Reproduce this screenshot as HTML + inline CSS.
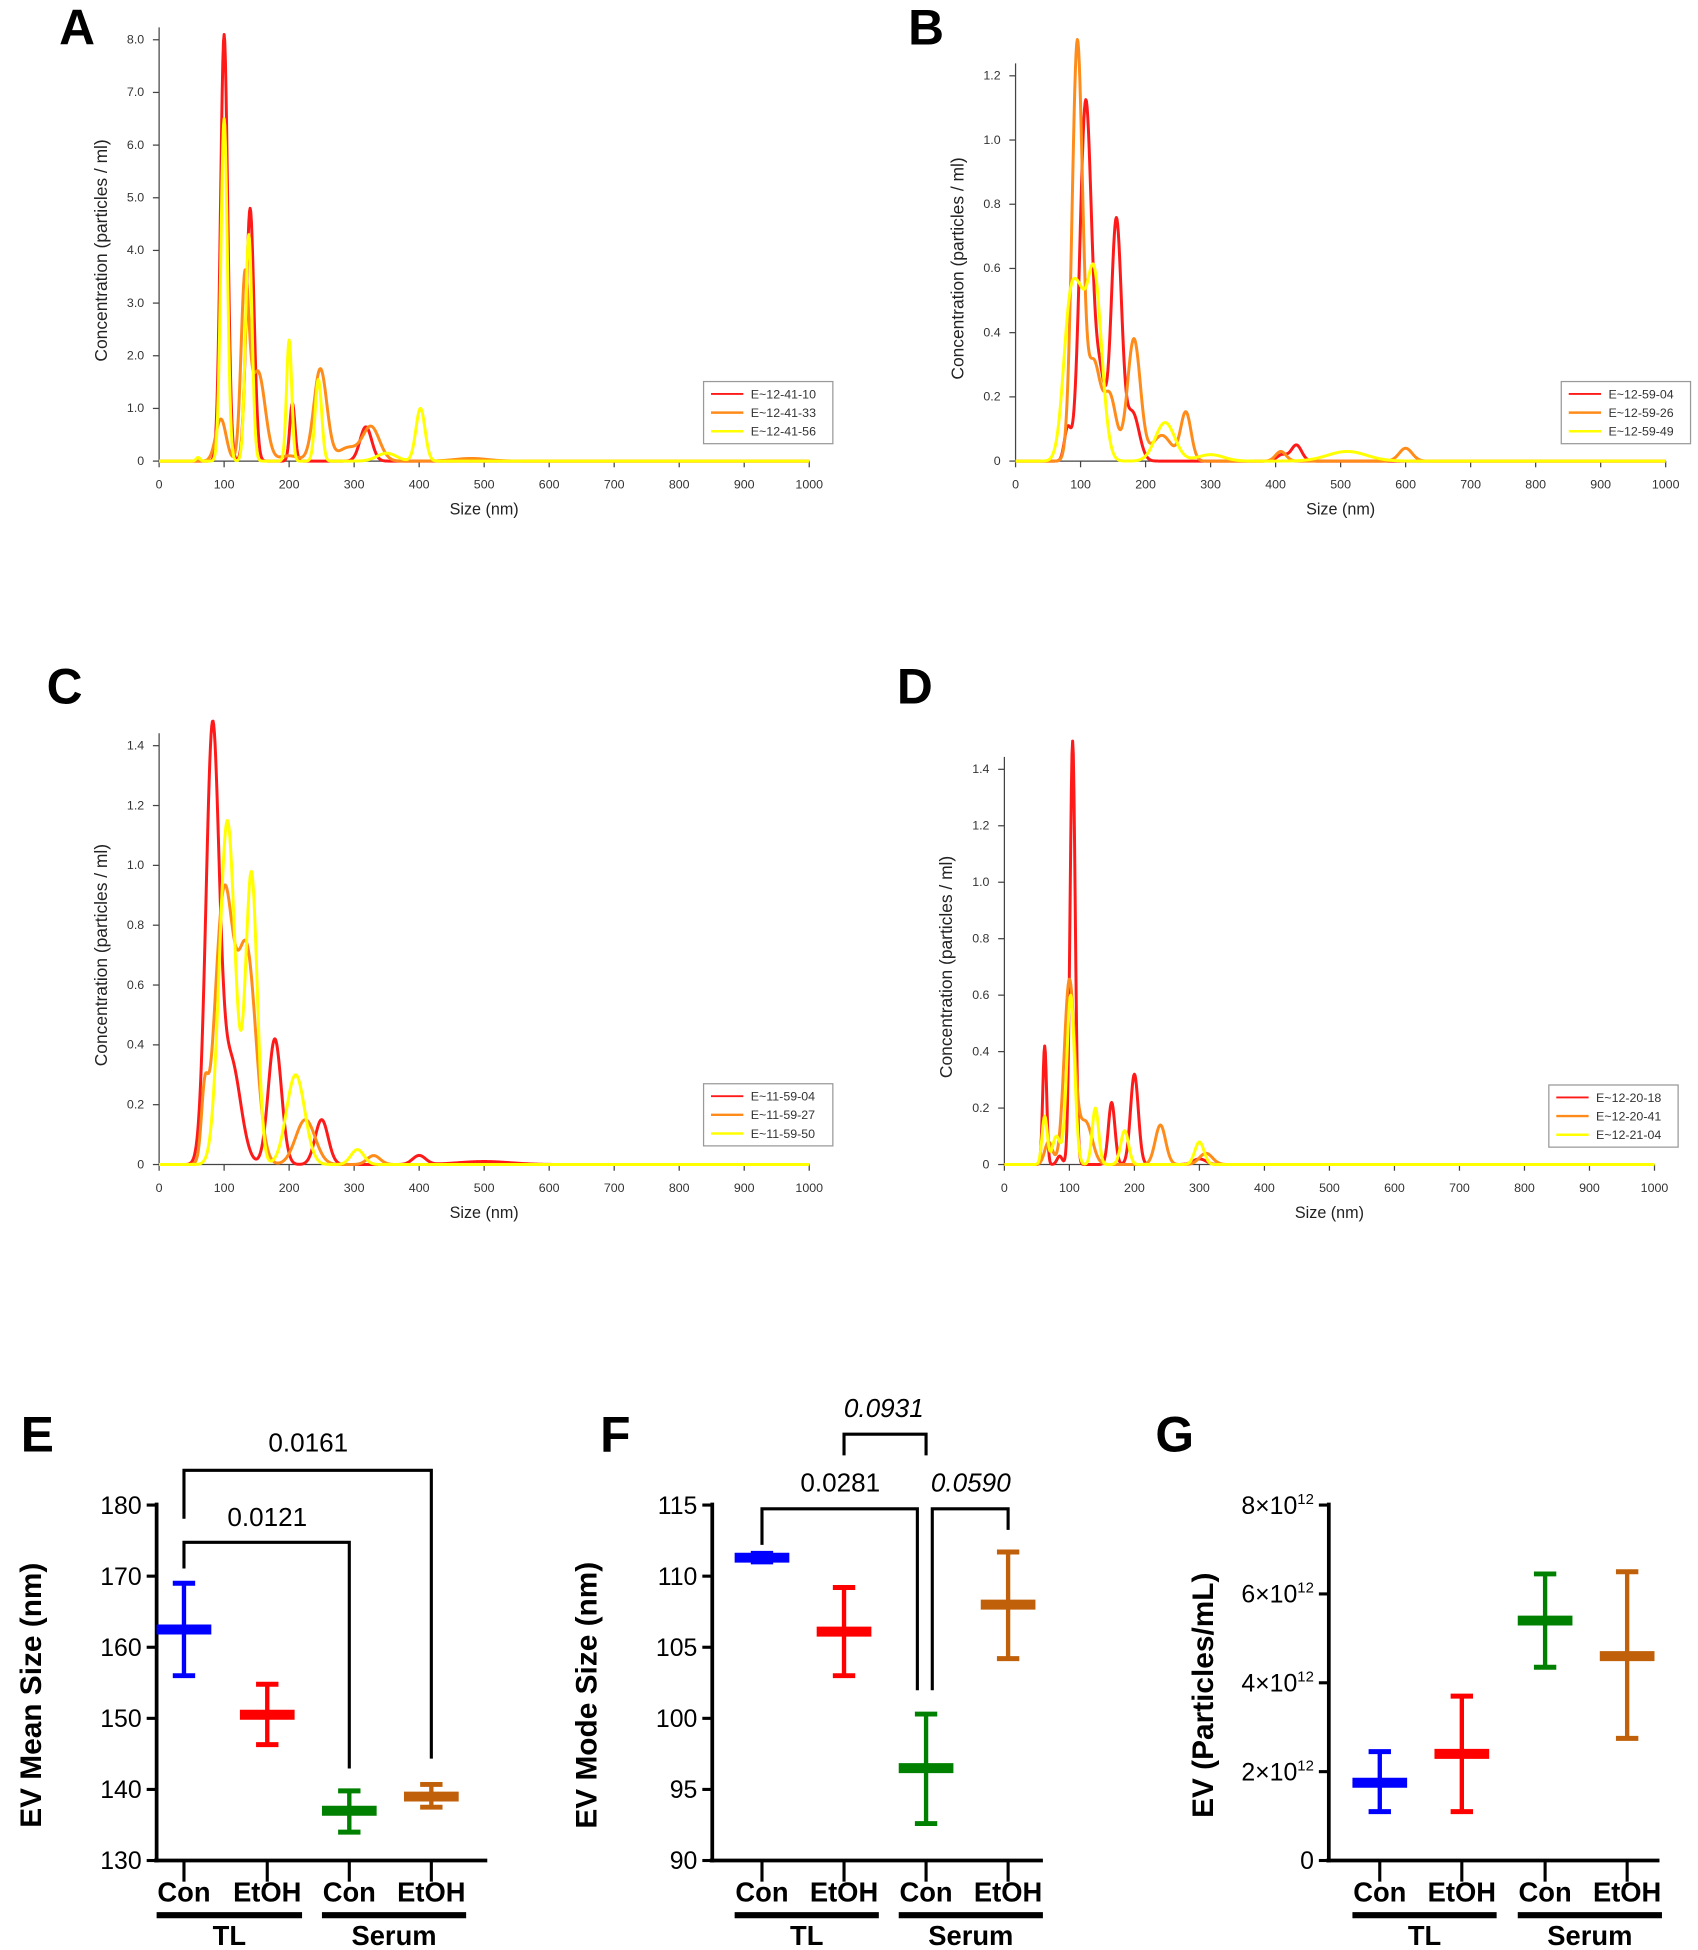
<!DOCTYPE html>
<html><head><meta charset="utf-8"><style>
html,body{margin:0;padding:0;background:#fff;}
svg{display:block;font-family:"Liberation Sans",Arial,sans-serif;}
</style></head><body>
<svg id="fig" width="1698" height="1950" viewBox="0 0 1366 1569" preserveAspectRatio="none" xmlns="http://www.w3.org/2000/svg"></svg>
<script>
// ===== NTA distribution data: peaks [center nm, height, sigma nm] =====
const xTicksNTA = [0,100,200,300,400,500,600,700,800,900,1000];
const aLegend = ["E~12-41-10","E~12-41-33","E~12-41-56"];
const aRed = [[100,8.1,5.5],[140,4.8,6],[205,1.1,4],[318,0.65,9]];
const aOrange = [[95,0.8,8],[132,3.3,6],[152,1.7,11],[200,0.1,15],[248,1.75,10],[290,0.25,15],[326,0.65,13],[480,0.05,25]];
const aYellow = [[60,0.07,3],[100,6.5,5],[138,4.3,5],[200,2.3,4],[245,1.55,5],[350,0.15,15],[402,1.0,7]];
const bLegend = ["E~12-59-04","E~12-59-26","E~12-59-49"];
const bRed = [[80,0.1,5],[108,1.12,9],[130,0.25,8],[155,0.75,8],[180,0.15,10],[410,0.02,8],[432,0.05,8]];
const bOrange = [[95,1.3,8],[120,0.3,10],[145,0.2,10],[182,0.38,10],[225,0.08,15],[262,0.15,8],[408,0.03,8],[600,0.04,10]];
const bYellow = [[85,0.5,11],[100,0.2,8],[120,0.6,12],[230,0.12,15],[300,0.02,20],[510,0.03,30]];
const cLegend = ["E~11-59-04","E~11-59-27","E~11-59-50"];
const cRed = [[82,1.42,10],[110,0.35,15],[178,0.42,10],[250,0.15,10],[400,0.03,10],[500,0.01,40]];
const cOrange = [[70,0.2,5],[100,0.9,14],[135,0.7,14],[225,0.15,15],[330,0.03,10]];
const cYellow = [[105,1.15,12],[142,0.97,9],[210,0.3,14],[305,0.05,10]];
const dLegend = ["E~12-20-18","E~12-20-41","E~12-21-04"];
const dRed = [[62,0.42,3],[85,0.03,4],[105,1.5,4],[165,0.22,5],[200,0.32,6],[300,0.02,10]];
const dOrange = [[68,0.08,6],[100,0.65,8],[125,0.15,10],[240,0.14,8],[310,0.04,10]];
const dYellow = [[62,0.17,4],[80,0.1,6],[102,0.6,6],[140,0.2,5],[185,0.12,6],[300,0.08,7]];

// ===== Summary stats: [mean, low, high] =====
const cats = ["Con","EtOH","Con","EtOH"];
const groups = ["TL","Serum"];
const meanSize = [[162.5,156,169],[150.5,146.3,154.8],[137,134,139.8],[139,137.5,140.7]];
const modeSize = [[111.3,111,111.6],[106.1,103,109.2],[96.5,92.6,100.3],[108,104.2,111.7]];
const evConc = [[1.75,1.1,2.45],[2.4,1.1,3.7],[5.4,4.35,6.45],[4.6,2.75,6.5]];
const eTicks = [130,140,150,160,170,180];
const fTicks = [90,95,100,105,110,115];
const gTicks = [0,2,4,6,8];

const NS="http://www.w3.org/2000/svg";
const svg=document.getElementById('fig');
function mk(tag,attrs,parent){const e=document.createElementNS(NS,tag);for(const k in attrs)e.setAttribute(k,attrs[k]);(parent||svg).appendChild(e);return e;}
function txt(s,attrs,parent){const e=mk('text',attrs,parent);e.textContent=s;return e;}

function ntaPanel(o){
  const g=mk('g',{});
  
  
  const sx=v=>o.x0+(v/1000)*(o.x1-o.x0);
  const sy=v=>o.y0-(v/o.ymax)*(o.y0-o.yTop);
  const lbl=txt(o.letter,{x:o.lx,y:o.ly,'font-size':40,'font-weight':'bold','text-anchor':'middle'},g);
  
  
  mk('line',{x1:o.x0,y1:o.y0,x2:o.x0,y2:o.yTop-10,stroke:'#444','stroke-width':1},g);
  mk('line',{x1:o.x0,y1:o.y0,x2:o.x1,y2:o.y0,stroke:'#444','stroke-width':1},g);
  xTicksNTA.forEach(t=>{mk('line',{x1:sx(t),y1:o.y0,x2:sx(t),y2:o.y0+5,stroke:'#444'},g);
    const tl=txt(String(t),{x:sx(t),y:o.y0+22,'font-size':10,'text-anchor':'middle',fill:'#333'},g);
    
    });
  o.yt.forEach(t=>{mk('line',{x1:o.x0-5,y1:sy(t),x2:o.x0,y2:sy(t),stroke:'#444'},g);
    const tl=txt(t===0?'0':t.toFixed(1),{x:o.x0-12,y:sy(t)+3,'font-size':10,'text-anchor':'end',fill:'#333'},g);
    
    });
  const xt=txt('Size (nm)',{x:(o.x0+o.x1)/2,y:o.y0+43,'font-size':13,'text-anchor':'middle',fill:'#222'},g);
  
  
  const ym=(o.y0+o.yTop)/2;
  const yt=txt('Concentration (particles / ml)',{x:o.x0-42,y:ym,'font-size':14,'text-anchor':'middle',fill:'#222',transform:`rotate(-90 ${o.x0-42} ${ym})`},g);
  
  
  const cols=['#ff1a1a','#ff8c1a','#ffff00'];
  o.series.forEach((pk,i)=>{
    let d='';
    for(let v=0;v<=1000;v+=1){let y=0;pk.forEach(p=>{y+=p[1]*Math.exp(-((v-p[0])**2)/(2*p[2]*p[2]));});
      d+=(v?'L':'M')+sx(v).toFixed(2)+','+sy(y).toFixed(2);}
    const p=mk('path',{d:d,fill:'none',stroke:cols[i],'stroke-width':2.4,'stroke-linejoin':'round'},g);
    
    
  });
  const lg=mk('g',{},g);
  
  
  mk('rect',{x:o.lgx,y:o.lgy,width:104,height:50,fill:'#fff',stroke:'#999'},lg);
  o.legend.forEach((s,i)=>{const yy=o.lgy+10+i*15;
    mk('line',{x1:o.lgx+6,y1:yy,x2:o.lgx+32,y2:yy,stroke:cols[i],'stroke-width':i?2:1.5},lg);
    const t=txt(s,{x:o.lgx+38,y:yy+3.5,'font-size':10,fill:'#333'},lg);
    
    });
}
ntaPanel({name:'panel-a',letter:'A',lx:62,ly:36,x0:128,x1:651,y0:371,yTop:32,ymax:8,yt:[0,1,2,3,4,5,6,7,8],series:[aRed,aOrange,aYellow],legend:aLegend,lgx:566,lgy:307});
ntaPanel({name:'panel-b',letter:'B',lx:745,ly:36,x0:817,x1:1340,y0:371,yTop:61,ymax:1.2,yt:[0,0.2,0.4,0.6,0.8,1.0,1.2],series:[bRed,bOrange,bYellow],legend:bLegend,lgx:1256,lgy:307});
ntaPanel({name:'panel-c',letter:'C',lx:52,ly:566,x0:128,x1:651,y0:937,yTop:600,ymax:1.4,yt:[0,0.2,0.4,0.6,0.8,1.0,1.2,1.4],series:[cRed,cOrange,cYellow],legend:cLegend,lgx:566,lgy:872});
ntaPanel({name:'panel-d',letter:'D',lx:736,ly:566,x0:808,x1:1331,y0:937,yTop:619,ymax:1.4,yt:[0,0.2,0.4,0.6,0.8,1.0,1.2,1.4],series:[dRed,dOrange,dYellow],legend:dLegend,lgx:1246,lgy:873});

const catCols=['#0000ff','#ff0000','#008000','#c0600a'];
function statPanel(o){
  const g=mk('g',{});
  
  
  const y0=1497,yTop=1211;
  const tmin=o.ticks[0],tmax=o.ticks[o.ticks.length-1];
  const sy=v=>y0-(v-tmin)/(tmax-tmin)*(y0-yTop);
  const cx=o.cx;
  const lbl=txt(o.letter,{x:o.lx,y:1168,'font-size':40,'font-weight':'bold','text-anchor':'middle'},g);
  
  
  mk('line',{x1:o.x0,y1:yTop-2,x2:o.x0,y2:y0+1.5,stroke:'#000','stroke-width':3},g);
  mk('line',{x1:o.x0-2,y1:y0,x2:o.x0+266,y2:y0,stroke:'#000','stroke-width':3},g);
  o.ticks.forEach(t=>{mk('line',{x1:o.x0-8,y1:sy(t),x2:o.x0,y2:sy(t),stroke:'#000','stroke-width':2.5},g);
    let tl;
    if(o.sci){tl=txt(t===0?'0':'',{x:o.x0-12,y:sy(t)+7,'font-size':20,'text-anchor':'end'},g);
      if(t!==0){tl.textContent=t+'×10';const s=document.createElementNS(NS,'tspan');s.setAttribute('dy','-8');s.setAttribute('font-size','12');s.textContent='12';tl.appendChild(s);}}
    else tl=txt(String(t),{x:o.x0-12,y:sy(t)+7,'font-size':20,'text-anchor':'end'},g);
    
    });
  const ym=(y0+yTop)/2+10;
  const yt=txt(o.ytitle,{x:o.x0-93,y:ym,'font-size':24,'font-weight':'bold','text-anchor':'middle',transform:`rotate(-90 ${o.x0-93} ${ym})`},g);
  
  
  o.data.forEach((d,i)=>{
    const c=catCols[i];const x=cx[i];
    mk('line',{x1:x,y1:y0,x2:x,y2:y0+17,stroke:'#000','stroke-width':2.5},g);
    const cl=txt(cats[i],{x:x,y:1530,'font-size':22,'font-weight':'bold','text-anchor':'middle'},g);
    
    
    const eg=mk('g',{},g);
    
    
    mk('line',{x1:x,y1:sy(d[1]),x2:x,y2:sy(d[2]),stroke:c,'stroke-width':3.5},eg);
    mk('line',{x1:x-9,y1:sy(d[1]),x2:x+9,y2:sy(d[1]),stroke:c,'stroke-width':4},eg);
    mk('line',{x1:x-9,y1:sy(d[2]),x2:x+9,y2:sy(d[2]),stroke:c,'stroke-width':4},eg);
    mk('line',{x1:x-22,y1:sy(d[0]),x2:x+22,y2:sy(d[0]),stroke:c,'stroke-width':8},eg);
  });
  [[cx[0]-22,cx[1]+28,groups[0]],[cx[2]-22,cx[3]+28,groups[1]]].forEach(gg=>{
    mk('line',{x1:gg[0],y1:1541,x2:gg[1],y2:1541,stroke:'#000','stroke-width':5},g);
    const t=txt(gg[2],{x:(gg[0]+gg[1])/2,y:1565,'font-size':22,'font-weight':'bold','text-anchor':'middle'},g);
    
    
  });
  (o.brackets||[]).forEach(b=>{
    const bg=mk('g',{},g);
    
    
    mk('path',{d:`M${b[0]},${b[1]} L${b[0]},${b[2]} L${b[3]},${b[2]} L${b[3]},${b[4]}`,fill:'none',stroke:'#000','stroke-width':2.5},bg);
    txt(b[5],{x:b[6],y:b[7],'font-size':21,'text-anchor':'middle','font-style':b[8]?'italic':'normal'},bg);
  });
}
statPanel({name:'panel-e',letter:'E',lx:30,x0:126,cx:[148,215,281,347],ticks:eTicks,data:meanSize,ytitle:'EV Mean Size (nm)',
  brackets:[[148,1262,1241,281,1423,'0.0121',215,1228,false],[148,1222,1183,347,1415,'0.0161',248,1168,false]]});
statPanel({name:'panel-f',letter:'F',lx:495,x0:573,cx:[613,679,745,811],ticks:fTicks,data:modeSize,ytitle:'EV Mode Size (nm)',
  brackets:[[613,1243,1214,738,1360,'0.0281',676,1200,false],[750,1360,1214,811,1231,'0.0590',781,1200,true],[679,1171,1154,745,1171,'0.0931',711,1140,true]]});
statPanel({name:'panel-g',letter:'G',lx:945,x0:1069,cx:[1110,1176,1243,1309],ticks:gTicks,data:evConc,ytitle:'EV (Particles/mL)',sci:true});
</script>
</body></html>
